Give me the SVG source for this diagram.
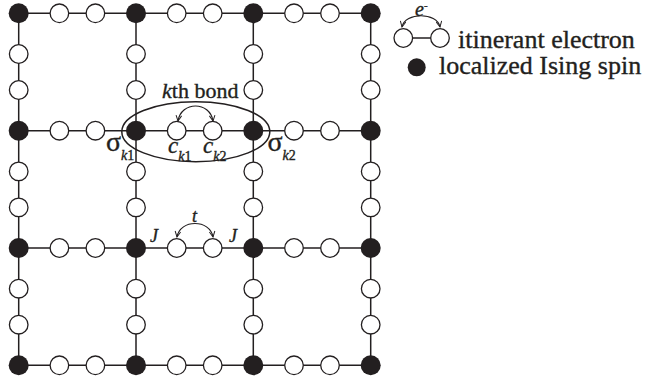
<svg xmlns="http://www.w3.org/2000/svg" width="646" height="380" viewBox="0 0 646 380">
<defs>
<style>
.ln{stroke:#231f20;stroke-width:1.5;fill:none}
.bk{fill:#231f20}
.wh{fill:#fff;stroke:#231f20;stroke-width:1.3}
.arc{stroke:#231f20;stroke-width:1.2;fill:none;marker-start:url(#ah);marker-end:url(#ah)}
.i{font-style:italic}
.txt{font-family:"Liberation Serif","DejaVu Serif",serif;fill:#231f20;stroke:#231f20;stroke-width:0.35}
</style>
<marker id="ah" viewBox="0 0 10 10" refX="9" refY="5" markerWidth="7" markerHeight="7" markerUnits="userSpaceOnUse" orient="auto-start-reverse">
<path d="M1,1 L9,5 L1,9" fill="none" stroke="#231f20" stroke-width="1.4"/>
</marker>
<circle id="B" r="10" class="bk"/>
<circle id="W" r="9.3" class="wh"/>
</defs>
<rect width="646" height="380" fill="#fff"/>
<g id="connectors">
<path class="ln" d="M18.7,13.3H370.7M18.7,130.7H370.7M18.7,248H370.7M18.7,365.3H370.7M18.7,13.3V365.3M136,13.3V365.3M253.3,13.3V365.3M370.7,13.3V365.3"/>
<ellipse cx="195.8" cy="131.7" rx="74" ry="30" class="ln" stroke-width="1.2"/>
<path class="arc" d="M178,121 C181,101 210,101 213,121"/>
<path class="arc" d="M177,237 C180,219 210,219 213,237"/>
<path class="arc" d="M402,27 C405,12 437,12 440,27"/>
<path class="ln" d="M403.3,38H440"/>
</g>
<g id="spins">
<g id="s00"><use href="#B" x="18.7" y="13.3"/></g>
<g id="s01"><use href="#B" x="136" y="13.3"/></g>
<g id="s02"><use href="#B" x="253.3" y="13.3"/></g>
<g id="s03"><use href="#B" x="370.7" y="13.3"/></g>
<g id="s10"><use href="#B" x="18.7" y="130.7"/></g>
<g id="s11"><use href="#B" x="136" y="130.7"/></g>
<g id="s12"><use href="#B" x="253.3" y="130.7"/></g>
<g id="s13"><use href="#B" x="370.7" y="130.7"/></g>
<g id="s20"><use href="#B" x="18.7" y="248"/></g>
<g id="s21"><use href="#B" x="136" y="248"/></g>
<g id="s22"><use href="#B" x="253.3" y="248"/></g>
<g id="s23"><use href="#B" x="370.7" y="248"/></g>
<g id="s30"><use href="#B" x="18.7" y="365.3"/></g>
<g id="s31"><use href="#B" x="136" y="365.3"/></g>
<g id="s32"><use href="#B" x="253.3" y="365.3"/></g>
<g id="s33"><use href="#B" x="370.7" y="365.3"/></g>
</g>
<g id="electrons-h">
<g id="h0a"><use href="#W" x="59.4" y="13.3"/></g><g id="h0b"><use href="#W" x="95.4" y="13.3"/></g>
<g id="h0c"><use href="#W" x="176.7" y="13.3"/></g><g id="h0d"><use href="#W" x="212.7" y="13.3"/></g>
<g id="h0e"><use href="#W" x="294" y="13.3"/></g><g id="h0f"><use href="#W" x="330" y="13.3"/></g>
<g id="h1a"><use href="#W" x="59.4" y="130.7"/></g><g id="h1b"><use href="#W" x="95.4" y="130.7"/></g>
<g id="h1c"><use href="#W" x="176.7" y="130.7"/></g><g id="h1d"><use href="#W" x="212.7" y="130.7"/></g>
<g id="h1e"><use href="#W" x="294" y="130.7"/></g><g id="h1f"><use href="#W" x="330" y="130.7"/></g>
<g id="h2a"><use href="#W" x="59.4" y="248"/></g><g id="h2b"><use href="#W" x="95.4" y="248"/></g>
<g id="h2c"><use href="#W" x="176.7" y="248"/></g><g id="h2d"><use href="#W" x="212.7" y="248"/></g>
<g id="h2e"><use href="#W" x="294" y="248"/></g><g id="h2f"><use href="#W" x="330" y="248"/></g>
<g id="h3a"><use href="#W" x="59.4" y="365.3"/></g><g id="h3b"><use href="#W" x="95.4" y="365.3"/></g>
<g id="h3c"><use href="#W" x="176.7" y="365.3"/></g><g id="h3d"><use href="#W" x="212.7" y="365.3"/></g>
<g id="h3e"><use href="#W" x="294" y="365.3"/></g><g id="h3f"><use href="#W" x="330" y="365.3"/></g>
</g>
<g id="electrons-v">
<g id="v0a"><use href="#W" x="18.7" y="54"/></g><g id="v0b"><use href="#W" x="18.7" y="90"/></g>
<g id="v0c"><use href="#W" x="18.7" y="171.4"/></g><g id="v0d"><use href="#W" x="18.7" y="207.4"/></g>
<g id="v0e"><use href="#W" x="18.7" y="288.7"/></g><g id="v0f"><use href="#W" x="18.7" y="324.7"/></g>
<g id="v1a"><use href="#W" x="136" y="54"/></g><g id="v1b"><use href="#W" x="136" y="90"/></g>
<g id="v1c"><use href="#W" x="136" y="171.4"/></g><g id="v1d"><use href="#W" x="136" y="207.4"/></g>
<g id="v1e"><use href="#W" x="136" y="288.7"/></g><g id="v1f"><use href="#W" x="136" y="324.7"/></g>
<g id="v2a"><use href="#W" x="253.3" y="54"/></g><g id="v2b"><use href="#W" x="253.3" y="90"/></g>
<g id="v2c"><use href="#W" x="253.3" y="171.4"/></g><g id="v2d"><use href="#W" x="253.3" y="207.4"/></g>
<g id="v2e"><use href="#W" x="253.3" y="288.7"/></g><g id="v2f"><use href="#W" x="253.3" y="324.7"/></g>
<g id="v3a"><use href="#W" x="370.7" y="54"/></g><g id="v3b"><use href="#W" x="370.7" y="90"/></g>
<g id="v3c"><use href="#W" x="370.7" y="171.4"/></g><g id="v3d"><use href="#W" x="370.7" y="207.4"/></g>
<g id="v3e"><use href="#W" x="370.7" y="288.7"/></g><g id="v3f"><use href="#W" x="370.7" y="324.7"/></g>
</g>
<g id="labels" class="txt">
<text x="162" y="98" font-size="22"><tspan class="i">k</tspan>th bond</text>
<text x="106" y="151" font-size="28">σ<tspan font-size="14" dy="9"><tspan class="i">k</tspan>1</tspan></text>
<text x="168" y="153" font-size="23" class="i">c<tspan font-size="14" dy="8">k<tspan font-style="normal">1</tspan></tspan></text>
<text x="203" y="153" font-size="23" class="i">c<tspan font-size="14" dy="8">k<tspan font-style="normal">2</tspan></tspan></text>
<text x="267.5" y="151" font-size="28">σ<tspan font-size="14" dy="9"><tspan class="i">k</tspan>2</tspan></text>
<text x="150" y="242" font-size="18" class="i">J</text>
<text x="229" y="242" font-size="18" class="i">J</text>
<text x="192" y="222" font-size="18" class="i">t</text>
</g>
<g id="legend">
<g id="legend-e1"><use href="#W" x="403.3" y="38"/></g>
<g id="legend-e2"><use href="#W" x="440" y="38"/></g>
<g id="legend-spin"><circle cx="416.7" cy="67.3" r="9" class="bk"/></g>
<g class="txt">
<text class="i" x="415" y="16" font-size="20">e<tspan font-size="11" dy="-7" font-style="normal">-</tspan></text>
<text x="458" y="47.5" font-size="26">itinerant electron</text>
<text x="439" y="73.5" font-size="26">localized Ising spin</text>
</g>
</g>
</svg>
